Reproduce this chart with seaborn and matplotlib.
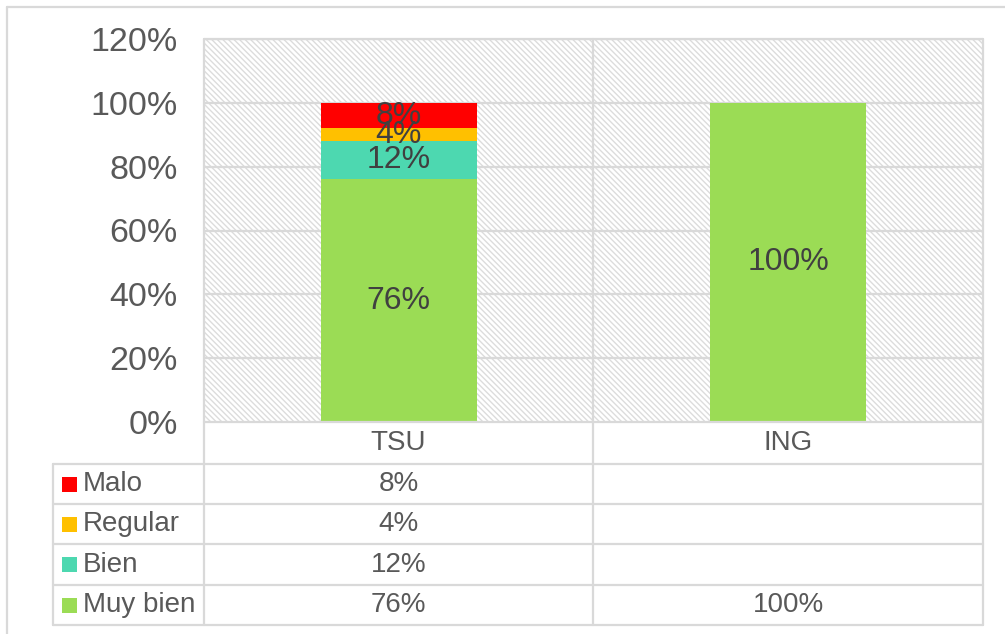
import numpy as np
import pandas as pd
import seaborn as sns
import matplotlib.pyplot as plt
from matplotlib.patches import Rectangle
from matplotlib.lines import Line2D

# data
categories = ['TSU', 'ING']
levels = ['Malo', 'Regular', 'Bien', 'Muy bien']
malo = [8, 0]
regular = [4, 0]
bien = [12, 0]
muy_bien = [76, 100]
colors = {'Malo': '#FF0000', 'Regular': '#FFC000',
          'Bien': '#4DD8B0', 'Muy bien': '#9BDC55'}
yticks = [0, 20, 40, 60, 80, 100, 120]

sns.set_theme(style='white')
plt.rcParams['font.family'] = ['Liberation Sans', 'DejaVu Sans']

grid_c = '#D9D9D9'
text_c = '#595959'

fig = plt.figure(figsize=(10.05, 6.34), dpi=100)
W, H = 1005, 634


def fx(px):
    return px / W


def fy(py):
    return 1 - py / H


ax = fig.add_axes([fx(204), fy(422), fx(983) - fx(204), fy(39) - fy(422)])

# stacked bars: draw cumulative totals, tallest first
df = pd.DataFrame({'cat': categories, 'Malo': malo, 'Regular': regular,
                   'Bien': bien, 'Muy bien': muy_bien})
stack_order = ['Muy bien', 'Bien', 'Regular', 'Malo']
cum = df[stack_order].cumsum(axis=1)
for lvl in reversed(stack_order):
    sns.barplot(x=df['cat'], y=cum[lvl], color=colors[lvl], ax=ax,
                width=0.4, saturation=1, linewidth=0, zorder=3)

# labels in the middle of each segment
for i, cat in enumerate(categories):
    base = 0
    for lvl in stack_order:
        v = df.loc[i, lvl]
        if v > 0:
            ax.text(i, base + v / 2, f'{v}%', ha='center', va='center',
                    fontsize=23, color='#404040', zorder=5)
        base += v

ax.set_ylim(0, 120)
ax.set_xlim(-0.5, 1.5)
ax.set_yticks(yticks)
ax.set_yticklabels([f'{t}%' for t in yticks], fontsize=24.5, color=text_c)
ax.tick_params(axis='y', length=0, pad=19)
ax.set_xticks([])
ax.set_xlabel('')
ax.set_ylabel('')
for s in ax.spines.values():
    s.set_visible(False)

# hatched plot background and gridlines
ax.set_facecolor('white')
ax.add_patch(Rectangle((0, 0), 1, 1, transform=ax.transAxes,
                       facecolor='white', edgecolor='#DCDCDC',
                       hatch='\\\\\\\\\\\\', linewidth=0, zorder=0))
for t in yticks[1:]:
    ax.axhline(t, color=grid_c, lw=1.6, zorder=1)

# chart outer border (top / left visible)
fig.add_artist(Line2D([fx(7), fx(1010)], [fy(7), fy(7)], color=grid_c, lw=1.6))
fig.add_artist(Line2D([fx(7), fx(7)], [fy(7), fy(640)], color=grid_c, lw=1.6))

# data table grid
def hline(y, x0, x1):
    fig.add_artist(Line2D([fx(x0), fx(x1)], [fy(y), fy(y)], color=grid_c, lw=1.6))


def vline(x, y0, y1):
    fig.add_artist(Line2D([fx(x), fx(x)], [fy(y0), fy(y1)], color=grid_c, lw=1.6))


hline(39, 204, 983)
hline(422, 204, 983)
row_y = [464, 504, 544, 585, 625]
for y in row_y:
    hline(y, 53, 983)
vline(53, 464, 625)
vline(204, 39, 625)
vline(593, 39, 625)
vline(983, 39, 625)

col_x = [398.5, 788]
for cx, cat in zip(col_x, categories):
    fig.text(fx(cx), fy(443), cat, ha='center', va='center',
             fontsize=20, color=text_c)

series = {'Malo': malo, 'Regular': regular, 'Bien': bien, 'Muy bien': muy_bien}
for r, lvl in enumerate(levels):
    yc = (row_y[r] + row_y[r + 1]) / 2
    fig.add_artist(Rectangle((fx(62), fy(yc + 7.5)), fx(15), fy(0) - fy(15),
                             facecolor=colors[lvl], edgecolor='none'))
    fig.text(fx(83), fy(yc), lvl, ha='left', va='center',
             fontsize=20, color=text_c)
    for cx, v in zip(col_x, series[lvl]):
        if v > 0:
            fig.text(fx(cx), fy(yc), f'{v}%', ha='center', va='center',
                     fontsize=20, color=text_c)

fig.savefig('out.png', dpi=100)
